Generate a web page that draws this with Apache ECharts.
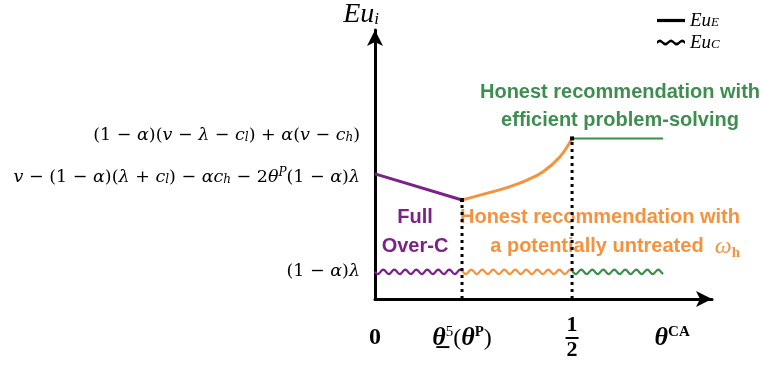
<!DOCTYPE html>
<html><head><meta charset="utf-8">
<script src="https://cdn.jsdelivr.net/npm/echarts@6/dist/echarts.min.js"></script>
<style>html,body{margin:0;padding:0;background:#fff}#c{width:760px;height:368px}</style>
</head><body><div id="c"></div>
<script>
// ---- data (conceptual units: x = theta, y = expected utility) ----
const xTickValues = [0, 0.2208, 0.5, 0.754];
const xTickLabels = [
  '{b|0}',
  '{bt|θ\u0332}{sup|5}{bp|(}{bt|θ}{supb|P}{bp|)}',
  '{n|1}\n{bar|\u00a0}\n{n|2}',
  '{bt|θ}{supb|CA}'
];
const yTickValues = [61.7, 46.1, 10.8];
const yTickLabels = [
  '{t|(1 − }{i|α}{t|)(}{i|v}{t| − }{i|λ}{t| − }{i|c}{sub|l}{t|) + }{i|α}{t|(}{i|v}{t| − }{i|c}{sub|h}{t|)}',
  '{i|v}{t| − (1 − }{i|α}{t|)(}{i|λ}{t| + }{i|c}{sub|l}{t|) − }{i|αc}{sub|h}{t| − 2}{i|θ}{sup|P}{t|(1 − }{i|α}{t|)}{i|λ}',
  '{t|(1 − }{i|α}{t|)}{i|λ}'
];
const fullOverC = [[0, 46.5], [0.2208, 36.8]];
const honestUntreated = [[0.2208, 36.8], [0.2995, 39.9], [0.3426, 41.8], [0.3858, 44.2], [0.4264, 47.3], [0.4695, 52.9], [0.5, 59.7]];
const honestEfficient = [[0.5, 59.7], [0.731, 59.7]];
const euCSegments = [[0, 0.2208, 10.1], [0.2208, 0.5, 10.1], [0.5, 0.731, 10.1]];
const thresholds = [[0.2208, 36.8], [0.5, 59.7]];

// ---- styles ----
const PURPLE = '#7b2188', ORANGE = '#f5923e', GREEN = '#3e8e4f';
const waveColors = [PURPLE, ORANGE, GREEN];
const SERIF = '"Liberation Serif", "DejaVu Serif", serif';
const MATH = '"DejaVu Serif", "Liberation Serif", serif';
const SANS = '"Liberation Sans", Arial, sans-serif';

const chart = echarts.init(document.getElementById('c'), null, {renderer: 'canvas'});

const series = [
  {type: 'line', name: 'EuE', data: fullOverC, showSymbol: false, lineStyle: {color: PURPLE, width: 3}, itemStyle: {color: PURPLE}, z: 5},
  {type: 'line', name: 'EuE', data: honestUntreated, smooth: 0.4, showSymbol: false, lineStyle: {color: ORANGE, width: 3}, itemStyle: {color: ORANGE}, z: 5},
  {type: 'line', name: 'EuE', data: honestEfficient, showSymbol: false, lineStyle: {color: GREEN, width: 2}, itemStyle: {color: GREEN}, z: 5},
  {
    type: 'custom', name: 'EuC', data: euCSegments, encode: {x: [0, 1], y: 2}, z: 5,
    itemStyle: {color: '#000'},
    renderItem: function (params, api) {
      const y = api.value(2);
      const p0 = api.coord([api.value(0), y]);
      const p1 = api.coord([api.value(1), y]);
      const origin = api.coord([0, y])[0];
      const wl = 11, amp = 2.2;
      const pts = [];
      const f = function (x) { return p0[1] + amp * Math.sin((x - origin) / wl * 2 * Math.PI); };
      for (let x = p0[0]; x < p1[0]; x += 1) pts.push([x, f(x)]);
      pts.push([p1[0], f(p1[0])]);
      return {type: 'polyline', shape: {points: pts}, style: {stroke: waveColors[params.dataIndex], lineWidth: 2.2, fill: null}};
    }
  }
];
thresholds.forEach(function (t) {
  series.push({
    type: 'line', name: 'threshold', data: [{value: [t[0], 0], symbol: 'none'}, {value: [t[0], t[1]]}],
    symbol: 'rect', symbolSize: 4, showSymbol: true, itemStyle: {color: '#000'},
    lineStyle: {color: '#000', width: 3, type: [3, 4]}, z: 6, silent: true
  });
});

chart.setOption({
  animation: false,
  backgroundColor: '#fff',
  grid: {left: 375, right: 48, top: 30, bottom: 69, containLabel: false, outerBoundsMode: 'none'},
  legend: {
    orient: 'vertical', left: 652, top: 6, itemWidth: 28, itemHeight: 8, itemGap: 3,
    selectedMode: false,
    data: [
      {name: 'EuE', icon: 'path://M0,0L26,0L26,3L0,3Z', itemStyle: {color: '#000'}},
      {name: 'EuC', icon: 'path://M0,2Q2.5,-1 5,2T10,2T15,2T20,2T25,2L25,4.5Q22.5,1.5 20,4.5T15,4.5T10,4.5T5,4.5T0,4.5Z', itemStyle: {color: '#000'}}
    ],
    formatter: function (n) { return n === 'EuE' ? '{i|Eu}{s|E}' : '{i|Eu}{s|C}'; },
    textStyle: {
      rich: {
        i: {fontFamily: SERIF, fontStyle: 'italic', fontSize: 19, color: '#000', lineHeight: 18},
        s: {fontFamily: SERIF, fontStyle: 'italic', fontSize: 13, color: '#000', verticalAlign: 'bottom', lineHeight: 12}
      }
    }
  },
  xAxis: {
    type: 'value', min: 0, max: 0.855,
    axisLine: {symbol: ['none', 'arrow'], symbolSize: [12, 16], lineStyle: {color: '#000', width: 3}},
    axisTick: {show: false}, splitLine: {show: false},
    axisLabel: {
      customValues: xTickValues, margin: 39, verticalAlign: 'middle',
      formatter: function (v, i) { const k = xTickValues.indexOf(v); return xTickLabels[k >= 0 ? k : i]; },
      rich: {
        b: {fontFamily: SERIF, fontWeight: 'bold', fontSize: 24, color: '#000', lineHeight: 26},
        bt: {fontFamily: SERIF, fontWeight: 'bold', fontStyle: 'italic', fontSize: 26, color: '#000', lineHeight: 26, verticalAlign: 'bottom'},
        bp: {fontFamily: SERIF, fontSize: 24, color: '#000', lineHeight: 26, verticalAlign: 'bottom'},
        sup: {fontFamily: SERIF, fontSize: 15, color: '#000', lineHeight: 14, verticalAlign: 'top'},
        supb: {fontFamily: SERIF, fontWeight: 'bold', fontSize: 15, color: '#000', lineHeight: 14, verticalAlign: 'top'},
        n: {fontFamily: SERIF, fontWeight: 'bold', fontSize: 22, color: '#000', lineHeight: 19, align: 'center'},
        bar: {width: 13, height: 2, backgroundColor: '#000', lineHeight: 6, fontSize: 2, align: 'center'}
      }
    }
  },
  yAxis: {
    type: 'value', min: 0, max: 100,
    name: '{e|Eu}{s|i}', nameLocation: 'end', nameGap: 15,
    nameTextStyle: {
      align: 'right', verticalAlign: 'middle', padding: [0, -4, 0, 0],
      rich: {
        e: {fontFamily: SERIF, fontStyle: 'italic', fontSize: 28, color: '#000', lineHeight: 26},
        s: {fontFamily: SERIF, fontStyle: 'italic', fontSize: 17, color: '#000', lineHeight: 16, verticalAlign: 'bottom'}
      }
    },
    axisLine: {symbol: ['none', 'arrow'], symbolSize: [12, 16], lineStyle: {color: '#000', width: 3}},
    axisTick: {show: false}, splitLine: {show: false},
    axisLabel: {
      customValues: yTickValues, margin: 15,
      formatter: function (v, i) { const k = yTickValues.indexOf(v); return yTickLabels[k >= 0 ? k : i]; },
      rich: {
        t: {fontFamily: MATH, fontSize: 17.5, color: '#000', lineHeight: 22, verticalAlign: 'bottom'},
        i: {fontFamily: MATH, fontStyle: 'italic', fontSize: 17.5, color: '#000', lineHeight: 22, verticalAlign: 'bottom'},
        sub: {fontFamily: MATH, fontStyle: 'italic', fontSize: 12, color: '#000', lineHeight: 13, verticalAlign: 'bottom'},
        sup: {fontFamily: MATH, fontStyle: 'italic', fontSize: 12, color: '#000', lineHeight: 13, verticalAlign: 'top', padding: [3, 0, 0, 0]}
      }
    }
  },
  graphic: [
    {type: 'text', x: 620, y: 106, silent: true, style: {
      text: 'Honest recommendation with\nefficient problem-solving',
      font: 'bold 20px ' + SANS, fill: GREEN, align: 'center', verticalAlign: 'middle', textAlign: 'center', textVerticalAlign: 'middle', lineHeight: 28}},
    {type: 'text', x: 740, y: 232, silent: true, style: {
      text: 'Honest recommendation with\na potentially untreated  {w|ω}{h|h}',
      font: 'bold 20px ' + SANS, fill: ORANGE, align: 'right', verticalAlign: 'middle', textAlign: 'right', textVerticalAlign: 'middle', lineHeight: 29,
      rich: {
        w: {fontFamily: SERIF, fontStyle: 'italic', fontSize: 24, fill: ORANGE, color: ORANGE, lineHeight: 29},
        h: {fontFamily: SERIF, fontWeight: 'bold', fontSize: 15, fill: ORANGE, color: ORANGE, lineHeight: 22, verticalAlign: 'bottom'}
      }}},
    {type: 'text', x: 415, y: 232, silent: true, style: {
      text: 'Full\nOver-C',
      font: 'bold 20px ' + SANS, fill: PURPLE, align: 'center', verticalAlign: 'middle', textAlign: 'center', textVerticalAlign: 'middle', lineHeight: 29}}
  ],
  series: series
});
</script>
</body></html>
